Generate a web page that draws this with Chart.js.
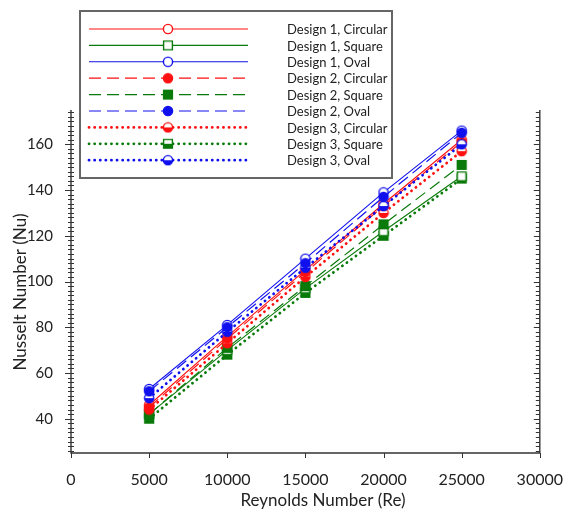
<!DOCTYPE html>
<html>
<head>
<meta charset="utf-8">
<script src="https://cdn.jsdelivr.net/npm/chart.js@4/dist/chart.umd.min.js"></script>
<style>
  body { margin: 0; background: #fff; }
</style>
</head>
<body>
<canvas id="chart" width="580" height="514"></canvas>
<script>
// Valeurs
const reynolds = [5000, 10000, 15000, 20000, 25000];
const design1Circular = [46, 76, 105, 134, 162];
const design1Square = [42, 70, 97, 122, 146];
const design1Oval = [53, 81, 110, 139, 166];
const design2Circular = [45, 75, 104, 133, 161];
const design2Square = [42, 71, 98, 125, 151];
const design2Oval = [52, 80, 108, 137, 165];
const design3Circular = [44, 73, 102, 130, 157];
const design3Square = [40, 68, 95, 120, 145];
const design3Oval = [49, 78, 106, 133, 160];
const xTicks = [0, 5000, 10000, 15000, 20000, 25000, 30000];
const yTicks = [40, 60, 80, 100, 120, 140, 160];

const RED = '#ff1010';
const GREEN = '#0a7a0a';
const BLUE = '#1010ee';
const FONT = 'Lato, "Open Sans", sans-serif';

// Marqueurs : open, filled, half
function makeMarker(shape, color, fill) {
    const c = document.createElement('canvas');
    c.width = 12; c.height = 12;
    const g = c.getContext('2d');
    const path = () => {
        g.beginPath();
        if (shape === 'circle') g.arc(6, 6, 4.6, 0, Math.PI * 2);
        else g.rect(1.6, 1.6, 8.8, 8.8);
    };
    path();
    g.fillStyle = fill === 'filled' ? color : '#fff';
    g.fill();
    if (fill === 'half') {
        g.save();
        path();
        g.clip();
        g.fillStyle = color;
        g.fillRect(0, 6, 12, 6);
        g.restore();
    }
    path();
    g.lineWidth = 1.4;
    g.strokeStyle = color;
    g.stroke();
    return c;
}

// order : bleu au-dessus, puis rouge, puis vert
const series = [
    { label: 'Design 1, Circular', data: design1Circular, color: RED, shape: 'circle', fill: 'open', dash: [], width: 1.1, order: 4 },
    { label: 'Design 1, Square', data: design1Square, color: GREEN, shape: 'rect', fill: 'open', dash: [], width: 1.1, order: 7 },
    { label: 'Design 1, Oval', data: design1Oval, color: BLUE, shape: 'circle', fill: 'open', dash: [], width: 1.1, order: 1 },
    { label: 'Design 2, Circular', data: design2Circular, color: RED, shape: 'circle', fill: 'filled', dash: [12, 6], width: 1.2, order: 3 },
    { label: 'Design 2, Square', data: design2Square, color: GREEN, shape: 'rect', fill: 'filled', dash: [12, 6], width: 1.2, order: 6 },
    { label: 'Design 2, Oval', data: design2Oval, color: BLUE, shape: 'circle', fill: 'filled', dash: [12, 6], width: 1.2, order: 0 },
    { label: 'Design 3, Circular', data: design3Circular, color: RED, shape: 'circle', fill: 'half', dash: [0.1, 5.5], width: 2.8, order: 5 },
    { label: 'Design 3, Square', data: design3Square, color: GREEN, shape: 'rect', fill: 'half', dash: [0.1, 5.5], width: 2.8, order: 8 },
    { label: 'Design 3, Oval', data: design3Oval, color: BLUE, shape: 'circle', fill: 'half', dash: [0.1, 5.5], width: 2.8, order: 2 }
];
series.forEach(s => s.marker = makeMarker(s.shape, s.color, s.fill));

const datasets = series.map(s => ({
    label: s.label,
    data: reynolds.map((x, i) => ({ x: x, y: s.data[i] })),
    order: s.order,
    showLine: true,
    borderColor: s.color,
    borderWidth: s.width,
    borderDash: s.dash,
    borderCapStyle: s.dash.length && s.dash[0] < 1 ? 'round' : 'butt',
    pointStyle: s.marker,
    pointRadius: 5,
    pointHoverRadius: 5
}));

// Axes, titres et légende dessinés à la main
const decor = {
    id: 'decor',
    afterDraw(chart) {
        const ctx = chart.ctx;
        const xs = chart.scales.x, ys = chart.scales.y;
        const L = chart.chartArea.left, R = chart.chartArea.right;
        const T = chart.chartArea.top, B = chart.chartArea.bottom;
        ctx.save();
        ctx.strokeStyle = '#333';
        ctx.lineWidth = 1.4;
        ctx.beginPath();
        ctx.moveTo(L, T); ctx.lineTo(L, B); ctx.lineTo(R, B); ctx.lineTo(R, T);
        ctx.stroke();
        // petites graduations y
        ctx.lineWidth = 1;
        ctx.beginPath();
        for (let v = 26; v <= 174; v += 2) {
            const y = Math.round(ys.getPixelForValue(v)) + 0.5;
            const major = v % 20 === 0;
            ctx.moveTo(major ? L - 6 : L - 3, y); ctx.lineTo(L + 3, y);
            ctx.moveTo(R - (major ? 6 : 4), y); ctx.lineTo(R, y);
        }
        xTicks.forEach(v => {
            const x = Math.round(xs.getPixelForValue(v)) + 0.5;
            ctx.moveTo(x, B); ctx.lineTo(x, B + 5);
        });
        ctx.stroke();

        // titres
        ctx.fillStyle = '#222';
        ctx.font = '17px ' + FONT;
        ctx.textAlign = 'center';
        ctx.textBaseline = 'middle';
        ctx.fillText('Reynolds Number (Re)', 323, 501);
        ctx.save();
        ctx.translate(21, 292);
        ctx.rotate(-Math.PI / 2);
        ctx.fillText('Nusselt Number (Nu)', 0, 0);
        ctx.restore();

        // légende
        ctx.fillStyle = '#fff';
        ctx.fillRect(80, 11, 312, 167);
        ctx.strokeStyle = '#666';
        ctx.lineWidth = 2;
        ctx.strokeRect(80, 11, 312, 167);
        ctx.font = '13px ' + FONT;
        ctx.textAlign = 'left';
        series.forEach((s, i) => {
            const y = 29 + i * 16.4;
            ctx.beginPath();
            ctx.strokeStyle = s.color;
            ctx.lineWidth = s.width;
            ctx.setLineDash(s.dash);
            ctx.lineCap = s.dash.length && s.dash[0] < 1 ? 'round' : 'butt';
            ctx.moveTo(89, y); ctx.lineTo(248, y);
            ctx.stroke();
            ctx.setLineDash([]);
            ctx.drawImage(s.marker, 168 - 6, y - 6);
            ctx.fillStyle = '#222';
            ctx.fillText(s.label, 287, y + 1);
        });
        ctx.restore();
    }
};

new Chart(document.getElementById('chart'), {
    type: 'scatter',
    data: { datasets: datasets },
    options: {
        responsive: false,
        animation: false,
        layout: { padding: { top: 110, right: 29, left: 0, bottom: 0 } },
        plugins: { legend: { display: false }, tooltip: { enabled: false } },
        scales: {
            x: {
                type: 'linear',
                min: 0,
                max: 30000,
                afterBuildTicks: scale => { scale.ticks = xTicks.map(v => ({ value: v })); },
                afterFit: scale => { scale.height = 61; },
                grid: { display: false, drawTicks: false },
                border: { display: false },
                ticks: { padding: 17, color: '#222', font: { family: FONT, size: 16 }, maxRotation: 0, callback: v => String(v) }
            },
            y: {
                type: 'linear',
                min: 25,
                max: 175,
                afterBuildTicks: scale => { scale.ticks = yTicks.map(v => ({ value: v })); },
                afterFit: scale => { scale.width = 71; },
                grid: { display: false, drawTicks: false },
                border: { display: false },
                ticks: { padding: 18, color: '#222', font: { family: FONT, size: 15 }, callback: v => String(v) }
            }
        }
    },
    plugins: [decor]
});
</script>
</body>
</html>
